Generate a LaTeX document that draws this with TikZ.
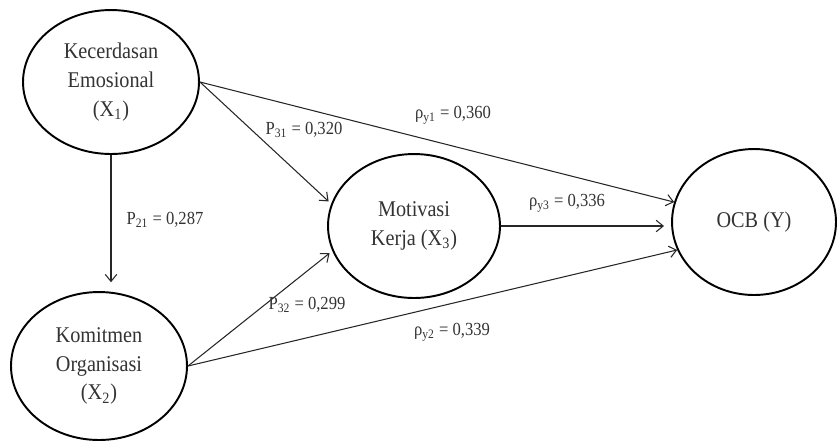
\documentclass[tikz,border=0pt]{standalone}
\usepackage{fontspec}
\setmainfont{Liberation Serif}[FakeStretch=0.9]
\usetikzlibrary{arrows.meta,shapes.geometric}
\definecolor{inkgray}{HTML}{333333}
\tikzset{
  latent/.style={ellipse,draw=black,line width=1.1pt,inner sep=0pt,align=center,text=inkgray,font=\fontsize{12.8}{16.4}\selectfont},
  causal/.style={-{Straight Barb[length=4pt,width=6.5pt]},line width=0.6pt,black!85},
  coef/.style={inner sep=1pt,text=inkgray,font=\fontsize{10.5}{12}\selectfont}
}
\begin{document}
\begin{tikzpicture}[x=0.02cm,y=-0.02cm]
  \useasboundingbox (0,0) rectangle (837,441);
  \node[latent,minimum width=3.52cm,minimum height=2.88cm] (X1) at (111,82) {Kecerdasan\\Emosional\\(X\textsubscript{1})};
  \node[latent,minimum width=3.52cm,minimum height=2.96cm] (X2) at (99,366) {Komitmen\\Organisasi\\(X\textsubscript{2})};
  \node[latent,minimum width=3.44cm,minimum height=2.88cm] (X3) at (414,226) {Motivasi\\Kerja (X\textsubscript{3})};
  \node[latent,minimum width=3.28cm,minimum height=2.92cm] (Y) at (754,222) {OCB (Y)};
  \draw[causal] (X1.east) -- (Y.166);
  \draw[causal,shorten >=2pt] (X1.east) -- (X3.165);
  \draw[causal,shorten >=5pt] (X1.south) -- (X1.south |- X2.north);
  \draw[causal,shorten >=2pt] (X2.east) -- (X3.197);
  \draw[causal] (X2.east) -- (Y.200);
  \draw[causal,shorten >=4pt] (X3.east) -- (X3.east -| Y.west);
  \node[coef] (p21) at (165,220) {P\textsubscript{21} = 0,287};
  \node[coef] (p31) at (304,130) {P\textsubscript{31} = 0,320};
  \node[coef] (p32) at (307,305) {P\textsubscript{32} = 0,299};
  \node[coef] (py1) at (453,115) {ρ\textsubscript{y1} = 0,360};
  \node[coef] (py3) at (567,203) {ρ\textsubscript{y3} = 0,336};
  \node[coef] (py2) at (452,332) {ρ\textsubscript{y2} = 0,339};
\end{tikzpicture}
\end{document}
